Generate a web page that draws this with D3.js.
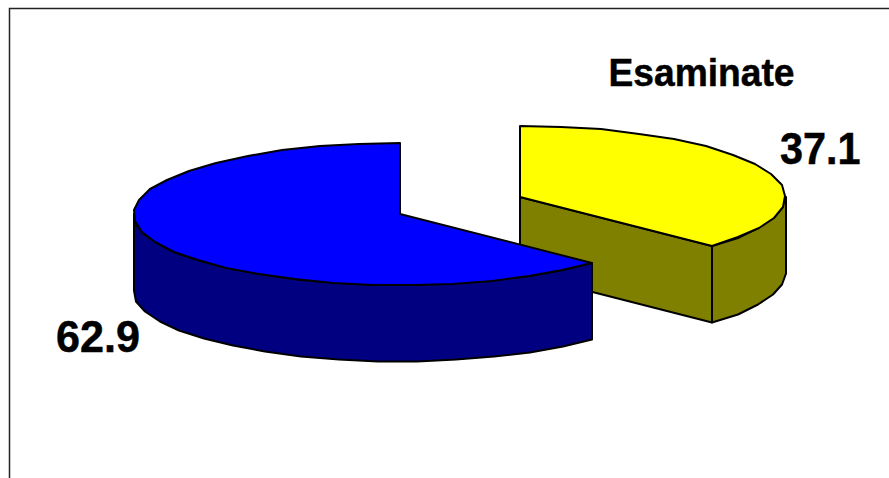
<!DOCTYPE html>
<html>
<head>
<meta charset="utf-8">
<style>
  html, body { margin: 0; padding: 0; background: #fff; overflow: hidden; }
  text { font-family: "Liberation Sans", Arial, sans-serif; font-weight: bold; fill: #000; stroke: #000; stroke-width: 0.5px; }
</style>
<script src="https://d3js.org/d3.v7.min.js"></script>
</head>
<body>
<svg id="chart" width="889" height="478"></svg>
<script>
const chartTitle = 'Esaminate';
const categories = ['Esaminate', 'Altri'];
const seriesValues = [37.1, 62.9];
const topColors = ['#ffff00', '#0000ff'];
const sideColors = ['#808000', '#000080'];

const svg = d3.select('#chart');

// cornice del grafico, aperta a destra e in basso
svg.append('path')
  .attr('d', d3.line()([[9.5, 478], [9.5, 8.5], [889, 8.5]]))
  .attr('fill', 'none').attr('stroke', '#222').attr('stroke-width', 1.5);

const rx = 266, ry = 71, depth = 76.5;
// centro di ogni fetta (la fetta gialla e' staccata)
const centers = [[520, 197], [400, 214]];

const slices = d3.pie().sort(null).value(d => d)(seriesValues);

function scalesFor(i) {
  const [cx, cy] = centers[i];
  return {
    x: d3.scaleLinear().domain([-1, 1]).range([cx - rx, cx + rx]),
    y: d3.scaleLinear().domain([-1, 1]).range([cy - ry, cy + ry])
  };
}

// punti del bordo: angolo da ore 12 in senso orario, segmenti corti come l'originale
function rim(i, a0, a1, dy) {
  const s = scalesFor(i);
  const n = Math.max(2, Math.ceil(Math.abs(a1 - a0) / (Math.PI / 20)));
  return d3.range(n + 1).map(k => {
    const a = a0 + (a1 - a0) * k / n;
    return [Math.floor(s.x(Math.sin(a)) + 1e-6), Math.round(s.y(-Math.cos(a))) + dy];
  });
}

const line = d3.line();
const poly = pts => line(pts) + 'Z';

function drawSlice(i) {
  const d = slices[i];
  const s = scalesFor(i);
  const center = [s.x(0), s.y(0)];
  const g = svg.append('g')
    .attr('stroke', '#000').attr('stroke-width', 2).attr('stroke-linejoin', 'round');

  // parete esterna visibile: solo la parte davanti (fra ore 3 e ore 9)
  const a0 = Math.max(d.startAngle, Math.PI / 2);
  const a1 = Math.min(d.endAngle, Math.PI * 1.5);
  const wallTop = rim(i, a0, a1, 0);
  const wallBottom = rim(i, a1, a0, depth);
  g.append('path').attr('d', poly(wallTop.concat(wallBottom))).attr('fill', sideColors[i]);

  // faccia di taglio davanti, solo per la fetta che finisce nel quadrante destro
  if (i === 0) {
    const edge = rim(i, d.endAngle, d.endAngle, 0)[0];
    const cut = [center, edge, [edge[0], edge[1] + depth], [center[0], center[1] + depth]];
    g.append('path').attr('d', poly(cut)).attr('fill', sideColors[i]);
  }

  // faccia superiore
  const top = [center].concat(rim(i, d.startAngle, d.endAngle, 0));
  g.append('path').attr('d', poly(top)).attr('fill', topColors[i]);
}

drawSlice(0);
drawSlice(1);

function label(x, y, size, len, txt) {
  svg.append('text')
    .attr('x', x).attr('y', y).attr('font-size', size)
    .attr('textLength', len).attr('lengthAdjust', 'spacingAndGlyphs')
    .text(txt);
}

label(608.5, 86, 39.5, 186, chartTitle);
label(780, 163.5, 44, 80.5, seriesValues[0]);
label(56, 351.5, 44, 84, seriesValues[1]);
</script>
</body>
</html>
